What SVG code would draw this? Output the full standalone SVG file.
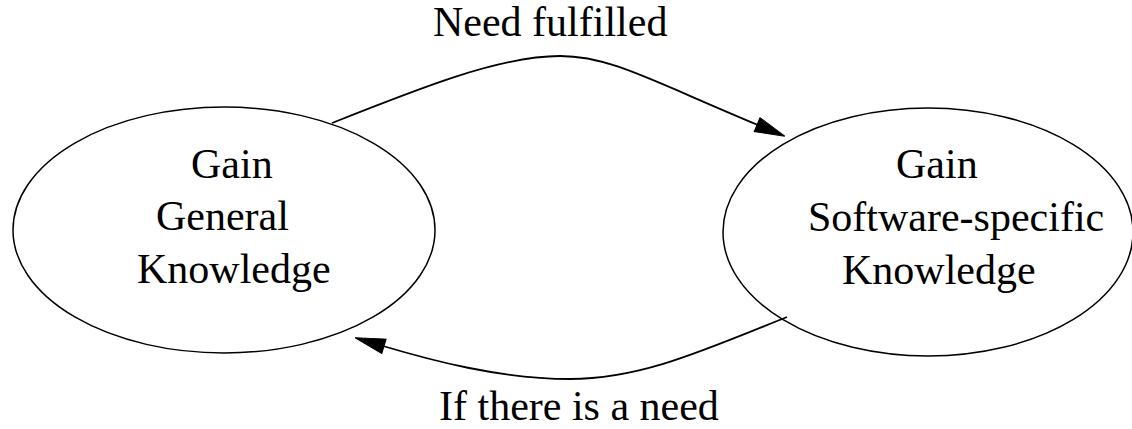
<svg xmlns="http://www.w3.org/2000/svg" width="1132" height="429" viewBox="0 0 1132 429">
<style>
.bg{fill:#fff}
.node ellipse{fill:#fff;stroke:#000;stroke-width:1.5}
text{font-family:"Liberation Serif","Times New Roman",serif;font-size:42px;fill:#000}
.edge{fill:none;stroke:#000;stroke-width:1.8}
</style>
<defs>
<marker id="arr" markerUnits="userSpaceOnUse" markerWidth="32" markerHeight="18" viewBox="0 0 32 18" refX="1" refY="9" orient="auto" overflow="visible">
<path d="M0,1.5 L30,9 L0,16.5 Z" fill="#000" stroke="#000" stroke-width="1"/>
</marker>
</defs>
<rect class="bg" width="1132" height="429"/>
<g id="node-general" class="node">
<ellipse cx="224" cy="230" rx="211" ry="123"/>
<text x="191" y="178">Gain</text>
<text x="156" y="230">General</text>
<text x="137" y="283">Knowledge</text>
</g>
<g id="node-software" class="node">
<ellipse cx="928" cy="232" rx="205" ry="124"/>
<text x="896" y="178">Gain</text>
<text x="808" y="231">Software-specific</text>
<text x="842" y="284">Knowledge</text>
</g>
<g id="connectors">
<path class="edge" d="M332,123 C420,88 500,56 560,56 C610,56 650,80 758,125" marker-end="url(#arr)"/>
<path class="edge" d="M787,317 C700,352 640,379 570,379 C500,379 430,360 383,346" marker-end="url(#arr)"/>
<text x="433" y="36">Need fulfilled</text>
<text x="439" y="420">If there is a need</text>
</g>
</svg>
